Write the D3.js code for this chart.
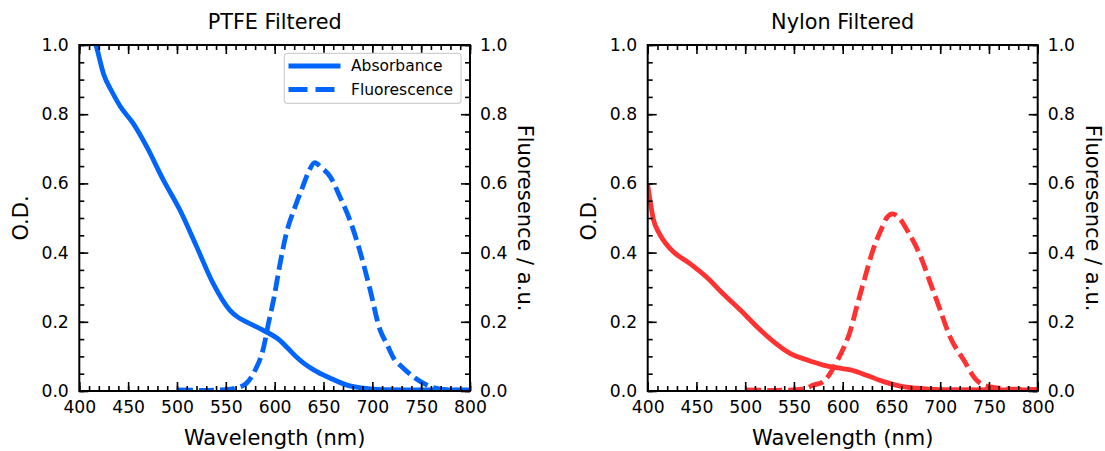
<!DOCTYPE html>
<html>
<head>
<meta charset="utf-8">
<script src="https://cdn.jsdelivr.net/npm/d3@7"></script>
<style>
  body { margin: 0; background: #fff; }
  svg { display: block; font-family: "DejaVu Sans", sans-serif; }
  .tick line { stroke: #000; stroke-width: 1.6px; }
  .tick text { font-size: 17.2px; fill: #000; font-family: "DejaVu Sans", sans-serif; }
  .domain { display: none; }
  .frame { fill: none; stroke: #000; stroke-width: 2px; }
  .title { font-size: 20.8px; }
  .label { font-size: 21px; }
  .legend text { font-size: 15.5px; }
</style>
</head>
<body>
<svg width="1105" height="451"></svg>
<script>
// wavelength (nm), value pairs
var ptfeAbsorbance = [[412,1.04],[417,1.0],[425,0.915],[434,0.862],[442,0.822],[455,0.774],[469,0.706],[486,0.61],
  [503,0.523],[520,0.418],[537,0.311],[554,0.234],[563,0.212],[571,0.200],[588,0.176],[605,0.147],
  [614,0.122],[622,0.099],[630,0.08],[640,0.061],[657,0.037],[674,0.017],[691,0.008],[710,0.004],
  [750,0.003],[800,0.003]];
var ptfeFluorescence = [[501,0.003],[525,0.002],[550,0.004],[560,0.008],[571,0.022],[580,0.06],[588,0.118],
  [594,0.2],[599,0.265],[605,0.36],[612,0.456],[621,0.533],[628,0.585],[635,0.635],[641,0.66],[648,0.645],
  [657,0.619],[667,0.56],[677,0.494],[687,0.407],[697,0.301],[708,0.176],[715,0.135],[721,0.099],
  [731,0.068],[742,0.041],[756,0.017],[776,0.003],[800,0.002]];
var nylonAbsorbance = [[400,0.595],[403,0.54],[406,0.494],[411,0.46],[416,0.436],[426,0.403],[443,0.369],
  [460,0.330],[477,0.282],[495,0.234],[512,0.186],[529,0.143],[546,0.109],[563,0.090],[580,0.075],
  [597,0.066],[608,0.061],[625,0.045],[642,0.027],[659,0.014],[676,0.008],[700,0.004],[800,0.003]];
var nylonFluorescence = [[501,0.003],[530,0.002],[553,0.004],[562,0.008],[570,0.017],[580,0.027],[587,0.05],
  [594,0.085],[601,0.125],[607,0.167],[615,0.25],[623,0.33],[631,0.407],[640,0.47],[645,0.5],[651,0.512],
  [658,0.5],[667,0.46],[673,0.43],[680,0.388],[690,0.311],[700,0.234],[710,0.157],[724,0.09],[737,0.032],
  [751,0.012],[778,0.005],[800,0.004]];

var panelTitles = ["PTFE Filtered", "Nylon Filtered"];
var seriesNames = ["Absorbance", "Fluorescence"];
var xTicks = [400, 450, 500, 550, 600, 650, 700, 750, 800];
var yTicks = [0, 0.2, 0.4, 0.6, 0.8, 1.0];

var panels = [
  {title: panelTitles[0], color: "#0165fc", abs: ptfeAbsorbance, fl: ptfeFluorescence, x0: 79.3, x1: 470, legend: true},
  {title: panelTitles[1], color: "#ff3131", abs: nylonAbsorbance, fl: nylonFluorescence, x0: 647.7, x1: 1037.7, legend: false}
];
var plotTop = 45, plotBottom = 391;

var svg = d3.select("svg");

panels.forEach(function(p, i) {
  var x = d3.scaleLinear().domain([400, 800]).range([p.x0, p.x1]);
  var y = d3.scaleLinear().domain([0, 1]).range([plotBottom, plotTop]);
  var y2 = d3.scaleLinear().domain([0, 1]).range([plotBottom, plotTop]);

  svg.append("clipPath").attr("id", "clip" + i)
    .append("rect").attr("x", p.x0).attr("y", plotTop).attr("width", p.x1 - p.x0).attr("height", plotBottom - plotTop);

  var line = d3.line()
      .x(function(d) { return x(d[0]); })
      .y(function(d) { return y(d[1]); })
      .curve(d3.curveMonotoneX);

  var g = svg.append("g").attr("clip-path", "url(#clip" + i + ")");
  g.append("path").attr("d", line(p.abs))
    .attr("fill", "none").attr("stroke", p.color).attr("stroke-width", 4.8);
  g.append("path").attr("d", line.y(function(d) { return y2(d[1]); })(p.fl))
    .attr("fill", "none").attr("stroke", p.color).attr("stroke-width", 4.8)
    .attr("stroke-dasharray", "15,6");

  // minor ticks
  var xMinor = d3.range(400, 801, 10), yMinor = d3.range(0, 1.001, 0.05);
  svg.append("g").attr("transform", "translate(0," + plotBottom + ")")
    .call(d3.axisBottom(x).tickValues(xMinor).tickSize(-5).tickSizeOuter(0).tickFormat(""));
  svg.append("g").attr("transform", "translate(0," + plotTop + ")")
    .call(d3.axisTop(x).tickValues(xMinor).tickSize(-5).tickSizeOuter(0).tickFormat(""));
  svg.append("g").attr("transform", "translate(" + p.x0 + ",0)")
    .call(d3.axisLeft(y).tickValues(yMinor).tickSize(-5).tickSizeOuter(0).tickFormat(""));
  svg.append("g").attr("transform", "translate(" + p.x1 + ",0)")
    .call(d3.axisRight(y2).tickValues(yMinor).tickSize(-5).tickSizeOuter(0).tickFormat(""));

  // major ticks
  svg.append("g").attr("transform", "translate(0," + plotBottom + ")")
    .call(d3.axisBottom(x).tickValues(xTicks).tickSize(-9).tickSizeOuter(0).tickPadding(9.5).tickFormat(d3.format("d")));
  svg.append("g").attr("transform", "translate(0," + plotTop + ")")
    .call(d3.axisTop(x).tickValues(xTicks).tickSize(-9).tickSizeOuter(0).tickFormat(""));
  svg.append("g").attr("transform", "translate(" + p.x0 + ",0)")
    .call(d3.axisLeft(y).tickValues(yTicks).tickSize(-9).tickSizeOuter(0).tickPadding(10.5).tickFormat(d3.format(".1f")));
  svg.append("g").attr("transform", "translate(" + p.x1 + ",0)")
    .call(d3.axisRight(y2).tickValues(yTicks).tickSize(-9).tickSizeOuter(0).tickPadding(10).tickFormat(d3.format(".1f")));

  svg.append("rect").attr("class", "frame")
    .attr("x", p.x0).attr("y", plotTop).attr("width", p.x1 - p.x0).attr("height", plotBottom - plotTop);

  var cx = (p.x0 + p.x1) / 2, cy = (plotTop + plotBottom) / 2;
  svg.append("text").attr("class", "title").attr("x", cx).attr("y", 29)
    .attr("text-anchor", "middle").text(p.title);
  svg.append("text").attr("class", "label").attr("x", cx).attr("y", 445)
    .attr("text-anchor", "middle").text("Wavelength (nm)");
  svg.append("text").attr("class", "label").attr("text-anchor", "middle")
    .attr("transform", "translate(" + (p.x0 - 51.3) + "," + cy + ") rotate(-90)").text("O.D.");
  svg.append("text").attr("class", "label").attr("text-anchor", "middle")
    .attr("transform", "translate(" + (p.x1 + 48.3) + "," + cy + ") rotate(90)").text("Fluoresence / a.u.");

  if (p.legend) {
    var lg = svg.append("g").attr("class", "legend");
    lg.append("rect").attr("x", 284.3).attr("y", 53.3).attr("width", 176.7).attr("height", 50)
      .attr("rx", 3).attr("fill", "#fff").attr("fill-opacity", 0.8)
      .attr("stroke", "#d0d0d0").attr("stroke-width", 1.2);
    seriesNames.forEach(function(name, k) {
      var ly = 66 + k * 23.5;
      lg.append("line").attr("x1", 288.5).attr("x2", 340.5).attr("y1", ly).attr("y2", ly)
        .attr("stroke", p.color).attr("stroke-width", 4.8)
        .attr("stroke-dasharray", k ? "19,8" : null);
      lg.append("text").attr("x", 351).attr("y", ly).attr("dy", "0.35em").text(name);
    });
  }
});
</script>
</body>
</html>
